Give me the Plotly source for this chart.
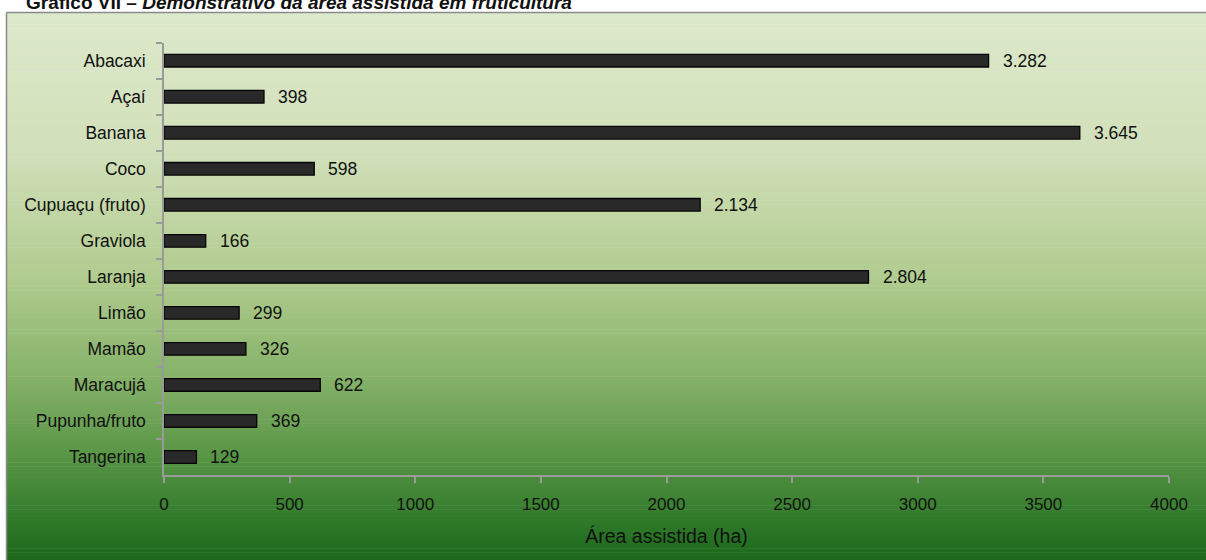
import plotly.graph_objects as go

# ---- data ----
categories = ["Abacaxi", "Açaí", "Banana", "Coco", "Cupuaçu (fruto)", "Graviola",
              "Laranja", "Limão", "Mamão", "Maracujá", "Pupunha/fruto", "Tangerina"]
area_ha = [3282, 398, 3645, 598, 2134, 166, 2804, 299, 326, 622, 369, 129]
x_ticks = [0, 500, 1000, 1500, 2000, 2500, 3000, 3500, 4000]

title_bold = "Gráfico VII"
title_rest = "Demonstrativo da área assistida em fruticultura"
x_title = "Área assistida (ha)"

W, H = 1206, 560
FONT = "Liberation Sans, Arial, sans-serif"
FS = 17.5

def px_x(p):
    return p / W

def px_y(p):
    return 1 - p / H

fig = go.Figure()

fig.add_trace(go.Bar(
    x=area_ha, y=categories, orientation="h",
    width=0.35,
    marker=dict(color="#292929", line=dict(color="#050505", width=1.3)),
    hoverinfo="x+y",
))

# data labels
def fmt(v):
    return f"{v:,}".replace(",", ".")

for c, v in zip(categories, area_ha):
    fig.add_annotation(x=v, y=c, xref="x", yref="y", text=fmt(v),
                       showarrow=False, xanchor="left", yanchor="middle",
                       xshift=12, font=dict(family=FONT, size=17.5, color="#111"))

# background gradient (stripes)
stops = [(12.5, (221, 233, 203)), (150, (209, 224, 186)), (280, (176, 203, 142)),
         (380, (132, 177, 104)), (460, (86, 148, 68)), (520, (48, 122, 42)),
         (560, (27, 104, 26))]

def col_at(yp):
    for (y0, c0), (y1, c1) in zip(stops[:-1], stops[1:]):
        if y0 <= yp <= y1:
            t = (yp - y0) / (y1 - y0)
            return "rgb(%d,%d,%d)" % tuple(round(a + (b - a) * t) for a, b in zip(c0, c1))
    return "rgb(%d,%d,%d)" % stops[-1][1]

shapes = []
n = 140
top, bot = 12.5, 560
h = (bot - top) / n
for i in range(n):
    y0 = top + i * h
    y1 = y0 + h + 0.6
    shapes.append(dict(type="rect", xref="paper", yref="paper",
                       x0=px_x(6.5), x1=1.0, y0=px_y(min(y1, bot)), y1=px_y(y0),
                       fillcolor=col_at(y0 + h / 2), line=dict(width=0), layer="below"))
# frame lines (left & top)
shapes.append(dict(type="line", xref="paper", yref="paper", x0=px_x(6.5), x1=px_x(6.5),
                   y0=0, y1=px_y(12.5), line=dict(color="#8a8a8a", width=1.5), layer="below"))
shapes.append(dict(type="line", xref="paper", yref="paper", x0=px_x(6.5), x1=1.0,
                   y0=px_y(12.5), y1=px_y(12.5), line=dict(color="#8a8a8a", width=1.5), layer="below"))

# title (partly cut off by the top edge, as in the source)
fig.add_annotation(xref="paper", yref="paper", x=px_x(24), y=px_y(15),
                   xanchor="left", yanchor="bottom", showarrow=False,
                   text=f"<b>{title_bold} – <i>{title_rest}</i></b>",
                   font=dict(family=FONT, size=19, color="#111"))

fig.update_layout(
    width=W, height=H, autosize=False,
    margin=dict(l=0, r=0, t=0, b=0, autoexpand=False),
    paper_bgcolor="white", plot_bgcolor="rgba(0,0,0,0)",
    showlegend=False, shapes=shapes,
    font=dict(family=FONT, size=FS, color="#111"),
    xaxis=dict(domain=[px_x(164), px_x(1169)], range=[0, 4000],
               tickvals=x_ticks, tickformat="d", automargin=False,
               showgrid=False, zeroline=False,
               showline=True, linecolor="#9a9a9a", linewidth=1.5,
               ticks="outside", ticklen=6, tickcolor="#9a9a9a", tickwidth=1.5,
               ticklabelstandoff=7,
               tickfont=dict(family=FONT, size=17, color="#111"),
               title=dict(text=x_title, standoff=16,
                          font=dict(family=FONT, size=19.5, color="#111"))),
    yaxis=dict(domain=[px_y(475), px_y(42.7)], autorange="reversed",
               type="category", tickson="boundaries", automargin=False,
               showgrid=False, zeroline=False,
               showline=True, linecolor="#9a9a9a", linewidth=1.5,
               ticks="outside", ticklen=6, tickcolor="#9a9a9a", tickwidth=1.5,
               ticklabelstandoff=13,
               tickfont=dict(family=FONT, size=FS, color="#111")),
)

fig.write_html("out.html",
               config=dict(responsive=False, displayModeBar=False),
               post_script="document.body.style.margin='0';document.body.style.overflow='hidden';")
